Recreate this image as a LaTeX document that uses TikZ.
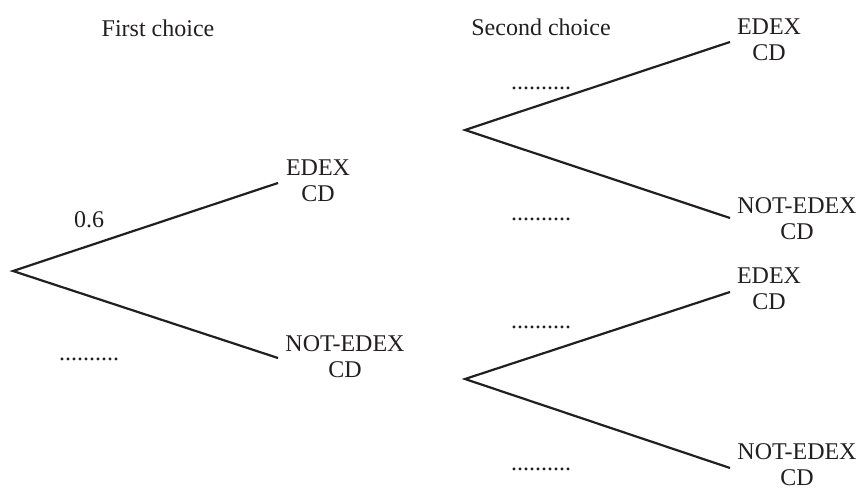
\documentclass[tikz,border=0pt]{standalone}
\usepackage{fontspec}
\setmainfont{Liberation Serif}
\definecolor{ink}{RGB}{35,31,32}
\begin{document}
\begin{tikzpicture}[x=0.5pt,y=-0.5pt,
  branch/.style={draw=ink,line width=1.1pt,line join=miter},
  lbl/.style={inner sep=0pt,anchor=base,align=center,text=ink,font=\fontsize{12}{13}\selectfont},
  dots/.style={inner sep=0pt,anchor=base,text=ink,font=\fontsize{12}{13}\selectfont}]
\useasboundingbox (0,0) rectangle (861,487);
% coordinates of the tree
\coordinate (A) at (13,271);
\coordinate (U1) at (278,183);
\coordinate (L1) at (278,358);
\coordinate (B) at (465,130);
\coordinate (B1) at (730,42);
\coordinate (B2) at (730,218);
\coordinate (C) at (465,379);
\coordinate (C1) at (730,292);
\coordinate (C2) at (730,468);
% branches
\draw[branch] (U1) -- (A) -- (L1);
\draw[branch] (B1) -- (B) -- (B2);
\draw[branch] (C1) -- (C) -- (C2);
% headings
\node[lbl] (h1) at (158,36) {First choice};
\node[lbl] (h2) at (541,35) {Second choice};
% first level labels (anchored at the baseline of the last line)
\node[lbl] (e1) at (318,201) {EDEX\\CD};
\node[lbl] (n1) at (345,377) {NOT-EDEX\\CD};
\node[lbl] (p1) at (89,227) {0.6};
\node[dots] (d1) at (89,360) {..........};
% second level labels
\node[lbl] (e2) at (769,60) {EDEX\\CD};
\node[lbl] (n2) at (797,239) {NOT-EDEX\\CD};
\node[lbl] (e3) at (769,309) {EDEX\\CD};
\node[lbl] (n3) at (797,485) {NOT-EDEX\\CD};
\node[dots] (d2) at (541,89) {..........};
\node[dots] (d3) at (541,220) {..........};
\node[dots] (d4) at (541,328) {..........};
\node[dots] (d5) at (541,470) {..........};
\end{tikzpicture}
\end{document}
